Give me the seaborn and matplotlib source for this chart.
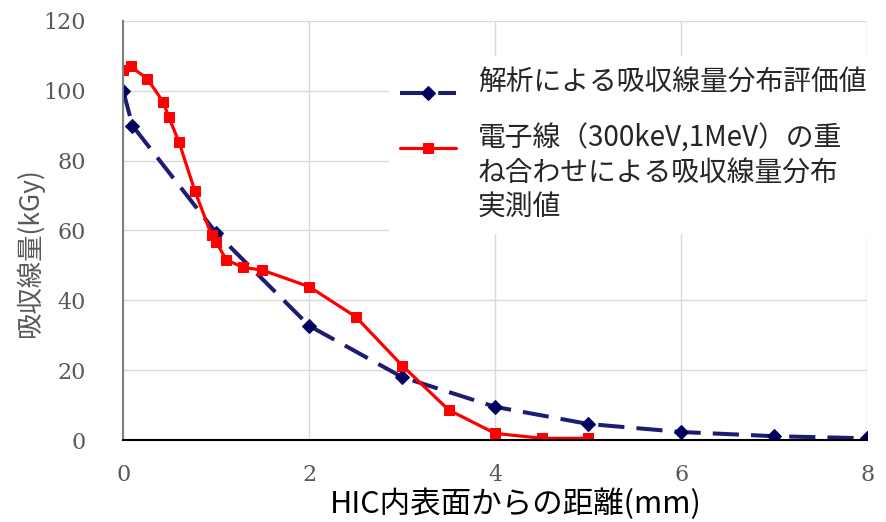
import matplotlib
matplotlib.use("Agg")
import matplotlib.pyplot as plt
from matplotlib.legend_handler import HandlerLine2D
import seaborn as sns

sns.set_style("white")
plt.rcParams['font.family'] = ['Noto Sans CJK JP', 'DejaVu Sans']

# 解析値
x_calc = [0, 0.1, 1, 2, 3, 4, 5, 6, 7, 8]
y_calc = [100, 90, 59.3, 32.7, 18, 9.5, 4.6, 2.3, 1.1, 0.5]

# 実測値
x_meas = [0, 0.08, 0.26, 0.43, 0.49, 0.6, 0.77, 0.95, 1.0, 1.11, 1.29, 1.49,
          2.0, 2.5, 3.0, 3.5, 4.0, 4.5, 5.0]
y_meas = [106, 107, 103.4, 96.8, 92.5, 85.3, 71.4, 58.7, 56.6, 51.6, 49.4, 48.7,
          43.9, 35.3, 21.3, 8.6, 1.9, 0.5, 0.5]

label_calc = '解析による吸収線量分布評価値'
label_meas = '電子線（300keV,1MeV）の重\nね合わせによる吸収線量分布\n実測値'


# 凡例の線の縦位置をずらすハンドラ
class ShiftHandler(HandlerLine2D):
    def __init__(self, dy, **kw):
        super().__init__(**kw)
        self.dy = dy

    def create_artists(self, legend, orig_handle, xdescent, ydescent,
                       width, height, fontsize, trans):
        return super().create_artists(legend, orig_handle, xdescent,
                                      ydescent - self.dy, width, height,
                                      fontsize, trans)


fig, ax = plt.subplots(figsize=(8.86, 5.22), dpi=100)
fig.subplots_adjust(left=0.139, right=0.979, top=0.96, bottom=0.157)

sns.lineplot(x=x_calc, y=y_calc, ax=ax, color='#1c1c72', lw=2.9,
             linestyle=(0, (6.5, 3)), marker='D', markersize=7,
             markerfacecolor='#000060', markeredgecolor='#000060',
             sort=False, label=label_calc)
sns.lineplot(x=x_meas, y=y_meas, ax=ax, color='#ff0000', lw=2.3,
             marker='s', markersize=7.5, markeredgecolor='#ff0000',
             sort=False, label=label_meas)

ax.set_xlim(0, 8)
ax.set_ylim(0, 120)
ax.set_xticks([0, 2, 4, 6, 8])
ax.set_yticks(range(0, 121, 20))
ax.grid(True, color='#d9d9d9', lw=1)
ax.set_axisbelow(True)

ax.tick_params(axis='y', direction='in', length=5, color='black', pad=27)
ax.tick_params(axis='x', length=0, pad=17.5)
for lab in ax.get_xticklabels() + ax.get_yticklabels():
    lab.set_fontfamily('DejaVu Serif')
    lab.set_fontsize(16)
    lab.set_color('#595959')

for s in ['top', 'right']:
    ax.spines[s].set_visible(False)
ax.spines['left'].set_color('#808080')
ax.spines['left'].set_linewidth(1.5)
ax.spines['bottom'].set_color('black')
ax.spines['bottom'].set_linewidth(1.5)

ax.set_xlabel('HIC内表面からの距離(mm)', fontsize=22, color='black')
ax.set_ylabel('吸収線量(kGy)', fontsize=19, color='#595959')
ax.xaxis.label.set_va('baseline')
ax.xaxis.set_label_coords(0.527, -0.174)
ax.yaxis.set_label_coords(-0.106, 0.446)

handles, labels = ax.get_legend_handles_labels()
leg = ax.legend(handles, labels, loc='upper left',
                bbox_to_anchor=(0.439, 0.892),
                bbox_transform=fig.transFigure, fontsize=20,
                frameon=True, framealpha=1, edgecolor='white', fancybox=False,
                handlelength=2, handletextpad=0.8, labelspacing=0.95,
                borderpad=0.4, borderaxespad=0,
                handler_map={handles[0]: ShiftHandler(-17),
                             handles[1]: ShiftHandler(39)})
leg.get_frame().set_linewidth(0)

fig.savefig('out.png', dpi=100)
